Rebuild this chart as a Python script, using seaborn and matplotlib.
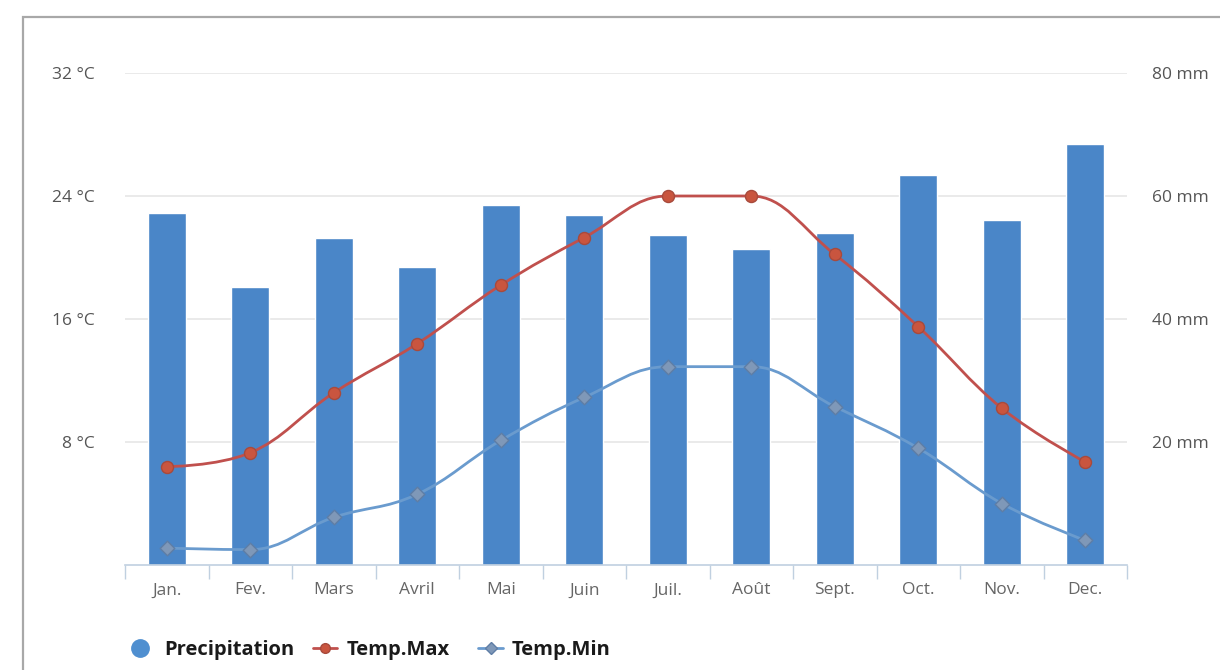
import numpy as np
import matplotlib
matplotlib.use("Agg")
import matplotlib.pyplot as plt
import seaborn as sns
from matplotlib.path import Path
from matplotlib.patches import PathPatch, Rectangle
from matplotlib.lines import Line2D

# ---------------- data ----------------
months = ["Jan.", "Fev.", "Mars", "Avril", "Mai", "Juin",
          "Juil.", "Août", "Sept.", "Oct.", "Nov.", "Dec."]
precip_mm = [57.2, 45.2, 53.2, 48.5, 58.5, 56.9, 53.7, 51.4, 54.0, 63.4, 56.1, 68.5]
temp_max = [6.4, 7.3, 11.2, 14.4, 18.2, 21.3, 24.0, 24.0, 20.2, 15.5, 10.2, 6.7]
temp_min = [1.1, 1.0, 3.1, 4.6, 8.1, 10.9, 12.9, 12.9, 10.3, 7.6, 4.0, 1.6]
temp_ticks = [8, 16, 24, 32]
temp_tick_labels = ["8 °C", "16 °C", "24 °C", "32 °C"]
precip_ticks = [20, 40, 60, 80]
precip_tick_labels = ["20 mm", "40 mm", "60 mm", "80 mm"]
legend_labels = ["Precipitation", "Temp.Max", "Temp.Min"]

# ---------------- style ----------------
sns.set_theme(style="white")
plt.rcParams["font.family"] = ["Open Sans", "DejaVu Sans"]

BAR = "#4a86c8"
RED = "#c0504d"
RED_FILL = "#c9553f"
BLUE_LINE = "#6a9bce"
BLUE_FILL = "#7f98b8"
BLUE_EDGE = "#5f7ea6"
AXIS = "#c0d0e0"
GRID = "#e6e6e6"
TXT = "#555555"

W, H = 1220, 670
fig = plt.figure(figsize=(W / 100, H / 100), dpi=100)
left, right, top, bottom = 125, 1127, 73, 565
ax = fig.add_axes([left / W, 1 - bottom / H, (right - left) / W, (bottom - top) / H])

# outer frame (cropped box)
fig.patches.append(Rectangle((23 / W, -0.1), 1.2, 0.1 + 1 - 17 / H,
                             transform=fig.transFigure, fill=False,
                             edgecolor="#a8a8a8", linewidth=1.6))

# bars (precipitation) on the mm axis
x_pos = np.arange(len(months))
sns.barplot(x=months, y=precip_mm, ax=ax, color=BAR, saturation=1,
            width=0.46, zorder=2)
ax.set_xlim(-0.5, len(months) - 0.5)
ax.set_ylim(0, 80)
ax.grid(axis="y", color=GRID, linewidth=1.2)
ax.set_axisbelow(True)

ax.set_xticks(x_pos)
ax.set_xticklabels(months)
ax.tick_params(axis="x", which="major", length=0, pad=12.5, labelsize=12.5, labelcolor="#666666")
ax.set_xticks(np.arange(-0.5, len(months)), minor=True)
ax.tick_params(axis="x", which="minor", length=10, width=1, color=AXIS, bottom=True)
ax.set_xlabel("")
ax.set_ylabel("")
for s in ["top", "left", "right"]:
    ax.spines[s].set_visible(False)
ax.spines["bottom"].set_color(AXIS)
ax.spines["bottom"].set_linewidth(1.2)

# temperature axis
ax2 = ax.twinx()
ax2.set_ylim(0, 32)
ax2.set_xlim(-0.5, len(months) - 0.5)
for s in ax2.spines.values():
    s.set_visible(False)

# right axis: precipitation labels; left axis: temperature labels
ax.yaxis.tick_right()
ax.set_yticks(precip_ticks)
ax.set_yticklabels(precip_tick_labels)
ax.tick_params(axis="y", left=False, right=False, labelleft=False, labelright=True,
               length=0, pad=18, labelsize=12.5, labelcolor=TXT)
for lab in ax.get_yticklabels():
    lab.set_horizontalalignment("left")

ax2.yaxis.tick_left()
ax2.set_yticks(temp_ticks)
ax2.set_yticklabels(temp_tick_labels)
ax2.tick_params(axis="y", left=False, right=False, labelleft=True, labelright=False,
                length=0, pad=21.5, labelsize=12.5, labelcolor=TXT)


def spline_path(xs, ys, smoothing=1.5):
    n = len(xs)
    lc = [None] * n
    rc = [None] * n
    for i in range(n):
        px, py = xs[i], ys[i]
        if 0 < i < n - 1:
            lx, ly = xs[i - 1], ys[i - 1]
            nx, ny = xs[i + 1], ys[i + 1]
            lcx = (smoothing * px + lx) / (smoothing + 1)
            lcy = (smoothing * py + ly) / (smoothing + 1)
            rcx = (smoothing * px + nx) / (smoothing + 1)
            rcy = (smoothing * py + ny) / (smoothing + 1)
            corr = ((rcy - lcy) * (rcx - px)) / (rcx - lcx) + py - rcy
            lcy += corr
            rcy += corr
            if lcy > ly and lcy > py:
                lcy = max(ly, py)
                rcy = 2 * py - lcy
            elif lcy < ly and lcy < py:
                lcy = min(ly, py)
                rcy = 2 * py - lcy
            if rcy > ny and rcy > py:
                rcy = max(ny, py)
                lcy = 2 * py - rcy
            elif rcy < ny and rcy < py:
                rcy = min(ny, py)
                lcy = 2 * py - rcy
            lc[i] = (lcx, lcy)
            rc[i] = (rcx, rcy)
        else:
            lc[i] = rc[i] = (px, py)
    verts = [(xs[0], ys[0])]
    codes = [Path.MOVETO]
    for i in range(n - 1):
        verts += [rc[i], lc[i + 1], (xs[i + 1], ys[i + 1])]
        codes += [Path.CURVE4] * 3
    return Path(verts, codes)


ax2.add_patch(PathPatch(spline_path(x_pos, temp_min), facecolor="none",
                        edgecolor=BLUE_LINE, linewidth=2.0, zorder=3))
ax2.add_patch(PathPatch(spline_path(x_pos, temp_max), facecolor="none",
                        edgecolor=RED, linewidth=2.0, zorder=3))
sns.scatterplot(x=x_pos, y=temp_min, ax=ax2, marker="D", s=55,
                color=BLUE_FILL, edgecolor=BLUE_EDGE, linewidth=1.0, zorder=4)
sns.scatterplot(x=x_pos, y=temp_max, ax=ax2, marker="o", s=75,
                color=RED_FILL, edgecolor="#a84a3c", linewidth=1.0, zorder=4)
ax2.set_ylabel("")

# legend (drawn item by item in figure pixels)
ly = 1 - 648 / H
def fx(px):
    return px / W

fig.add_artist(Line2D([fx(140)], [ly], marker="o", ls="none", ms=12.5,
                      color="#4f8fd0", transform=fig.transFigure))
fig.add_artist(Line2D([fx(313), fx(337)], [ly, ly], lw=2, color=RED,
                      transform=fig.transFigure))
fig.add_artist(Line2D([fx(325)], [ly], marker="o", ms=7, ls="none", color=RED_FILL,
                      markeredgecolor="#a84a3c", transform=fig.transFigure))
fig.add_artist(Line2D([fx(478), fx(503)], [ly, ly], lw=2, color=BLUE_LINE,
                      transform=fig.transFigure))
fig.add_artist(Line2D([fx(490.5)], [ly], marker="D", ms=6, ls="none", color=BLUE_FILL,
                      markeredgecolor=BLUE_EDGE, transform=fig.transFigure))
for px, lab in zip([164, 347, 512], legend_labels):
    fig.text(fx(px), ly, lab, ha="left", va="center_baseline", fontsize=14.5,
             fontweight="bold", color="#1a1a1a")

fig.savefig("out.png", dpi=100, facecolor="white")
